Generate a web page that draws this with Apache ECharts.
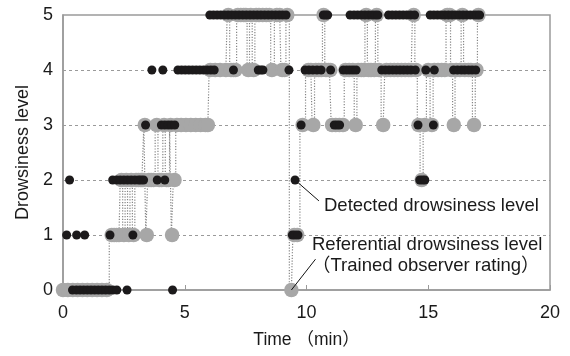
<!DOCTYPE html>
<html>
<head>
<meta charset="utf-8">
<script src="https://cdn.jsdelivr.net/npm/echarts@6/dist/echarts.min.js"></script>
<style>
  html, body { margin: 0; padding: 0; background: #fff; }
  #chart { width: 570px; height: 356px; }
</style>
</head>
<body>
<div id="chart"></div>
<script>
// reference rating (trained observer), time in minutes
const refTime = [
  0, 0.2, 0.4, 0.6, 0.8, 1.0, 1.2, 1.4, 1.6, 1.8,
  2.0, 2.1, 2.2, 2.3, 2.4, 2.5, 2.6, 2.7, 2.8, 2.9, 3.0, 3.1, 3.2, 3.28,
  3.36, 3.44, 3.52, 3.62, 3.72, 3.85, 3.95, 4.05, 4.15, 4.25, 4.33, 4.42, 4.48, 4.58, 4.68,
  4.85, 5.05, 5.25, 5.45, 5.65, 5.85, 5.95,
  6.05, 6.25, 6.45, 6.69, 6.79, 6.9, 7.0, 7.08, 7.18, 7.3, 7.42, 7.51, 7.61, 7.71, 7.83, 7.93, 8.05, 8.2, 8.35, 8.48, 8.58, 8.78, 8.9, 9.0, 9.1, 9.21, 9.38, 9.5, 9.62,
  9.84, 10.08, 10.18, 10.28, 10.38, 10.5, 10.61, 10.7, 10.8, 10.9, 10.98, 11.05, 11.2, 11.35, 11.5, 11.6, 11.75, 11.9, 12.02, 12.12, 12.25, 12.35, 12.45, 12.55, 12.65, 12.78, 12.88, 12.98, 13.15, 13.28,
  13.45, 13.6, 13.75, 13.9, 14.05, 14.2, 14.3, 14.4, 14.5, 14.6, 14.73, 14.85, 15.0, 15.15, 15.25, 15.4, 15.55, 15.68, 15.78, 15.88, 15.95, 16.05, 16.15, 16.3, 16.4, 16.5, 16.65, 16.75, 16.88, 16.98, 17.06
];
const refLevel = [
  0, 0, 0, 0, 0, 0, 0, 0, 0, 0,
  1, 1, 1, 1, 2, 1, 2, 1, 2, 1, 2, 2, 2, 2,
  3, 1, 2, 2, 2, 3, 2, 2, 3, 2, 2, 3, 1, 2, 3,
  3, 3, 3, 3, 3, 3, 3,
  4, 4, 4, 4, 5, 4, 4, 4, 5, 5, 5, 5, 4, 5, 4, 5, 5, 5, 5, 5, 4, 5, 5, 4, 4, 5, 0, 1, 1,
  3, 4, 4, 3, 4, 4, 4, 5, 4, 4, 4, 3, 3, 3, 3, 4, 4, 4, 3, 4, 4, 4, 5, 4, 4, 4, 5, 4, 3, 4,
  4, 4, 4, 4, 4, 4, 4, 5, 4, 3, 2, 3, 4, 3, 4, 4, 4, 4, 5, 5, 4, 3, 4, 4, 5, 4, 4, 4, 3, 4, 5
];

// detected level: times (min) at which each level was output
const det0 = [0.39, 0.55, 0.7, 0.85, 1.0, 1.15, 1.3, 1.45, 1.6, 1.75, 1.9, 2.05, 2.21, 2.63, 4.5];
const det1 = [0.15, 0.56, 0.89, 1.93, 2.87, 9.42, 9.53, 9.65];
const det2 = [0.27, 2.04, 2.2, 2.35, 2.5, 2.65, 2.8, 2.95, 3.1, 3.2, 3.31, 3.87, 4.18, 9.53, 14.65, 14.76, 14.86];
const det3 = [3.39, 4.04, 4.18, 4.32, 4.45, 4.59, 9.78, 11.14, 11.25, 11.36, 14.58, 15.21];
const det4 = [3.65, 4.1, 4.72, 4.87, 5.02, 5.17, 5.32, 5.47, 5.62, 5.77, 5.92, 6.07, 6.21, 7.0,
  8.02, 8.12, 8.21, 9.28, 9.94, 10.1, 10.26, 10.43, 10.6, 10.99, 11.51, 11.65, 11.78, 11.91, 12.04,
  13.09, 13.24, 13.39, 13.54, 13.69, 13.84, 13.99, 14.14, 14.29, 14.47, 14.9, 15.25,
  16.04, 16.2, 16.36, 16.5, 16.66, 16.8, 16.95];
const det5 = [6.03, 6.18, 6.33, 6.48, 6.63, 6.78, 6.93, 7.08, 7.23, 7.38, 7.53, 7.68, 7.83, 7.98,
  8.13, 8.28, 8.43, 8.58, 8.73, 8.88, 9.02, 9.16, 10.69, 10.78, 10.87,
  11.79, 11.95, 12.1, 12.25, 12.4, 12.55, 12.7, 12.82, 12.93,
  13.37, 13.52, 13.67, 13.82, 13.97, 14.12, 14.28, 14.44,
  15.08, 15.23, 15.38, 15.53, 15.68, 15.83, 15.98, 16.13, 16.28, 16.43, 16.58, 16.73, 16.88, 17.0, 17.11];

// callout lines: [from point, to label] in data units
const callouts = [
  [[9.53, 2], [10.51, 1.62]],
  [[9.38, 0], [10.37, 0.56]]
];

const FONT = "'Liberation Sans', Arial, 'Noto Sans CJK JP', sans-serif";
const TEXT = '#1a1a1a';
const AXIS = '#9a9a9a';

const detData = [];
[det0, det1, det2, det3, det4, det5].forEach((times, level) => {
  times.forEach(t => detData.push([t, level]));
});

const chart = echarts.init(document.getElementById('chart'), null, { renderer: 'canvas' });

chart.setOption({
  animation: false,
  grid: {
    left: 63, right: 20, top: 15, bottom: 66,
    show: true, borderColor: AXIS, borderWidth: 1.5
  },
  xAxis: {
    type: 'value',
    min: 0, max: 20, interval: 5,
    name: 'Time （min）',
    nameLocation: 'middle',
    nameGap: 41,
    nameTextStyle: { fontSize: 17.5, color: TEXT, fontFamily: FONT },
    axisLine: { lineStyle: { color: AXIS, width: 1.5 } },
    axisTick: { inside: true, length: 5, lineStyle: { color: AXIS } },
    axisLabel: { fontSize: 18, color: TEXT, fontFamily: FONT, margin: 14 },
    splitLine: { show: false }
  },
  yAxis: {
    type: 'value',
    min: 0, max: 5, interval: 1,
    name: 'Drowsiness level',
    nameLocation: 'middle',
    nameGap: 30,
    nameTextStyle: { fontSize: 18, color: TEXT, fontFamily: FONT },
    axisLine: { show: true, lineStyle: { color: AXIS, width: 1.5 } },
    axisTick: { show: false },
    axisLabel: { fontSize: 18, color: TEXT, fontFamily: FONT, margin: 10 },
    splitLine: {
      show: true, showMinLine: false, showMaxLine: false,
      lineStyle: { color: AXIS, type: [3, 3], width: 1 }
    }
  },
  series: [
    {
      name: 'Referential drowsiness level',
      type: 'line',
      step: 'middle',
      z: 2,
      data: refTime.map((t, i) => [t, refLevel[i]]),
      symbol: 'circle',
      symbolSize: 14.5,
      showAllSymbol: true,
      itemStyle: { color: '#a7a7a7' },
      lineStyle: { color: '#858585', width: 1.2, type: [1.2, 1.6] },
      silent: true
    },
    {
      name: 'Detected drowsiness level',
      type: 'scatter',
      z: 5,
      data: detData,
      symbolSize: 9,
      itemStyle: { color: '#1c1a1b', opacity: 1 },
      silent: true,
      markLine: {
        silent: true,
        symbol: ['none', 'none'],
        label: { show: false },
        lineStyle: { color: '#111', type: 'solid', width: 1 },
        data: callouts.map(c => [{ coord: c[0] }, { coord: c[1] }])
      }
    }
  ],
  graphic: [
    {
      type: 'text', x: 324, y: 205.5,
      style: { text: 'Detected drowsiness level', fontSize: 18.5, fontFamily: FONT, fill: TEXT, align: 'left', verticalAlign: 'middle' }
    },
    {
      type: 'text', x: 312, y: 244.7,
      style: { text: 'Referential drowsiness level', fontSize: 18.5, fontFamily: FONT, fill: TEXT, align: 'left', verticalAlign: 'middle' }
    },
    {
      type: 'text', x: 312, y: 265.5,
      style: { text: '（Trained observer rating）', fontSize: 18.5, fontFamily: FONT, fill: TEXT, align: 'left', verticalAlign: 'middle' }
    }
  ]
});
</script>
</body>
</html>
